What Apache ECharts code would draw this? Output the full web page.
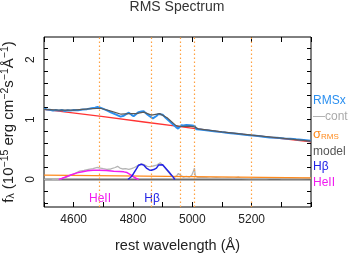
<!DOCTYPE html>
<html><head><meta charset="utf-8">
<script src="https://cdn.jsdelivr.net/npm/echarts@6/dist/echarts.min.js"></script>
<style>html,body{margin:0;padding:0;background:#fff}#c{width:354px;height:255px}</style>
</head><body><div id="c"></div>
<script>
// ---- data ----
var rmsxWave = [4500,4510,4520,4530,4540,4550,4560,4570,4580,4590,4600,4615,4630,4645,4660,4672,4680,4690,4700,4712,4725,4735,4747,4758,4769,4778,4786,4795,4802,4810,4819,4828,4836,4845,4855,4867,4873,4879,4886,4892,4900,4907,4913,4924,4935,4945,4952,4958,4963,4970,4980,4991,5000,5008,5014,5025,5040,5060,5080,5092,5110,5130,5150,5170,5193,5215,5240,5261,5285,5310,5330,5350,5375,5400];
var rmsxFlux = [1.18,1.17,1.165,1.15,1.16,1.15,1.16,1.145,1.155,1.15,1.16,1.155,1.17,1.175,1.19,1.2,1.21,1.2,1.18,1.155,1.12,1.10,1.075,1.05,1.065,1.095,1.115,1.08,1.055,1.09,1.125,1.135,1.14,1.10,1.06,1.02,1.035,1.06,1.095,1.12,1.08,1.045,1.015,0.97,0.92,0.875,0.85,0.88,0.905,0.9,0.91,0.905,0.9,0.895,0.84,0.835,0.825,0.815,0.80,0.795,0.785,0.77,0.765,0.75,0.74,0.73,0.715,0.70,0.695,0.685,0.68,0.67,0.66,0.645];
var modelWave = [4500,4550,4600,4650,4690,4720,4760,4790,4810,4836,4862,4890,4915,4945,4960,4990,5007,5020,5100,5200,5300,5400];
var modelFlux = [1.17,1.16,1.16,1.18,1.19,1.15,1.09,1.10,1.10,1.125,1.075,1.10,1.03,0.90,0.885,0.89,0.88,0.845,0.795,0.74,0.69,0.64];
var contWave = [4500,4700,4837,4946,5100,5250,5400];
var contFlux = [1.17,1.05,0.96,0.89,0.79,0.71,0.63];
var residWave = [4500,4520,4540,4555,4570,4585,4600,4609,4620,4635,4650,4665,4680,4690,4700,4712,4725,4740,4748,4756,4765,4775,4786,4795,4805,4815,4824,4832,4840,4848,4858,4868,4880,4892,4900,4910,4920,4930,4940,4947,4953,4959,4963,4970,4980,4990,4998,5004,5007,5010,5020,5040,5060,5080,5100,5120,5140,5155,5160,5165,5190,5220,5250,5280,5300,5330,5360,5400];
var residFlux = [0.0,0.01,-0.005,0.01,0.03,0.06,0.09,0.11,0.14,0.15,0.17,0.18,0.2,0.19,0.18,0.17,0.175,0.2,0.22,0.19,0.175,0.18,0.17,0.18,0.2,0.23,0.25,0.255,0.24,0.22,0.215,0.225,0.24,0.28,0.24,0.18,0.12,0.06,0.04,0.06,0.1,0.13,0.06,0.04,0.05,0.04,0.07,0.14,0.19,0.06,0.03,0.035,0.02,0.03,0.02,0.025,0.02,0.04,0.05,0.02,0.015,0.02,0.015,0.025,0.015,0.02,0.015,0.02];
var heiiWave = [4550,4560,4575,4590,4611,4630,4647,4665,4684,4710,4735,4755,4769,4780,4786,4795,4802,4810,4819];
var heiiFlux = [0,0.015,0.045,0.075,0.11,0.13,0.145,0.152,0.155,0.148,0.138,0.132,0.127,0.115,0.10,0.07,0.043,0.02,0];
var hbWave = [4783,4795,4802,4812,4819,4828,4836,4845,4855,4862,4870,4879,4886,4892,4900,4913,4922,4930,4936,4941];
var hbFlux = [0,0.05,0.1,0.18,0.238,0.255,0.24,0.19,0.16,0.155,0.165,0.19,0.24,0.265,0.245,0.172,0.12,0.072,0.035,0];
var sigmaWave = [4500,4836,5400];
var sigmaFlux = [0.072,0.055,0.027];
var zeroWave = [4500,5400];
var zeroFlux = [0,0];
var lineMarks = [4686,4861,4959,5007,5200];
var xTickLabels = [4600,4800,5000,5200];
var yTickLabels = [0,1,2];

function pairs(w,f){return w.map(function(v,i){return [v,f[i]];});}
var FF = 'Liberation Sans';
var W = 354, H = 255;
var G = {left:44, right:43, top:37, bottom:48};
var PW = W - G.left - G.right, PH = H - G.top - G.bottom;
var yMin = -0.46, yMax = 2.38;       // data range of the plot box
var tMin = -0.4, tMax = 2.2;          // tick axis range (multiples of 0.2)
var ppu = PH / (yMax - yMin);
var g2top = G.top + (yMax - tMax) * ppu;
var g2bottom = G.bottom + (tMin - yMin) * ppu;
var YT = 4, XT = 5;                   // tick lengths

var chart = echarts.init(document.getElementById('c'), null, {renderer:'canvas'});
var noLine = {show:false};
var tickSplit = {show:true,lineStyle:{color:'#000',width:1,type:'solid'}};
function lineS(data,color,width,z){return {type:'line',xAxisIndex:0,yAxisIndex:0,data:data,showSymbol:false,symbol:'none',lineStyle:{color:color,width:width},z:z,animation:false,silent:true};}
function hiddenX(gi){return {gridIndex:gi,type:'value',min:4500,max:5400,show:false};}
function hiddenY(gi){return {gridIndex:gi,type:'value',min:yMin,max:yMax,show:false};}
function tickX(gi){return {gridIndex:gi,type:'value',min:4500,max:5400,interval:100,axisLine:noLine,axisTick:{show:false},axisLabel:{show:false},splitLine:tickSplit};}
function tickY(gi){return {gridIndex:gi,type:'value',min:tMin,max:tMax,interval:0.2,axisLine:noLine,axisTick:{show:false},axisLabel:{show:false},splitLine:tickSplit};}
function emptyS(i){return {type:'line',xAxisIndex:i,yAxisIndex:i,data:[],silent:true};}
function gridBox(o){return Object.assign({outerBoundsMode:'none',containLabel:false},o);}
var option = {
  animation:false,
  title:{text:'RMS Spectrum',left:'center',top:0,padding:0,textStyle:{fontFamily:FF,fontSize:14,fontWeight:'normal',color:'#333'}},
  grid:[
    gridBox({left:G.left,right:G.right,top:G.top,bottom:G.bottom,show:true,borderColor:'#000',borderWidth:1,backgroundColor:'transparent'}),
    gridBox({left:G.left,right:G.right,top:g2top,bottom:g2bottom}),
    gridBox({left:G.left,width:YT,top:g2top,bottom:g2bottom}),
    gridBox({left:W-G.right-YT,width:YT,top:g2top,bottom:g2bottom}),
    gridBox({left:G.left,right:G.right,top:G.top,height:XT}),
    gridBox({left:G.left,right:G.right,top:H-G.bottom-XT,height:XT})
  ],
  xAxis:[
    {gridIndex:0,type:'value',min:4500,max:5400,interval:100,position:'bottom',axisLine:noLine,axisTick:{show:false},splitLine:{show:false},
      name:'rest wavelength (Å)',nameLocation:'middle',nameGap:31,
      nameTextStyle:{fontFamily:FF,fontSize:14.5,color:'#222'},
      axisLabel:{fontFamily:FF,fontSize:12,color:'#222',margin:7,
        formatter:function(v){return xTickLabels.indexOf(v)>=0?String(v):'';}}},
    hiddenX(1), hiddenX(2), hiddenX(3), tickX(4), tickX(5)
  ],
  yAxis:[
    {gridIndex:0,type:'value',min:yMin,max:yMax,position:'left',axisLine:noLine,axisTick:{show:false},axisLabel:{show:false},splitLine:{show:false},
      name:'{n|f}{sb|λ}{n| (10}{sp|−15}{n| erg cm}{sp|−2}{n|s}{sp|−1}{n|Å}{sp|−1}{n|)}',
      nameLocation:'middle',nameGap:26,nameRotate:90,
      nameTextStyle:{fontFamily:FF,fontSize:15,color:'#222',rich:{
        n:{fontFamily:FF,fontSize:15,color:'#222'},
        sp:{fontFamily:FF,fontSize:10.5,color:'#222',padding:[0,0,7,0]},
        sb:{fontFamily:FF,fontSize:10.5,color:'#222',padding:[5,0,0,0]}}}},
    {gridIndex:1,type:'value',min:tMin,max:tMax,interval:0.2,position:'left',axisLine:noLine,axisTick:{show:false},splitLine:{show:false},
      axisLabel:{fontFamily:FF,fontSize:12,color:'#222',rotate:90,margin:7,
        formatter:function(v){var r=Math.round(v*100)/100;return yTickLabels.indexOf(r)>=0?String(r):'';}}},
    tickY(2), tickY(3), hiddenY(4), hiddenY(5)
  ],
  series:[
    lineS(pairs(zeroWave,zeroFlux),'#6e6e6e',2,2),
    lineS(pairs(residWave,residFlux),'#b4b4b4',1.3,3),
    lineS(pairs(sigmaWave,sigmaFlux),'#ff8a1c',1.3,4),
    lineS(pairs(heiiWave,heiiFlux),'#f01cf0',1.5,5),
    lineS(pairs(hbWave,hbFlux),'#2222e6',1.5,5),
    lineS(pairs(contWave,contFlux),'#ff3333',1.3,3),
    lineS(pairs(rmsxWave,rmsxFlux),'#2a8ff0',2,4),
    Object.assign(lineS(pairs(modelWave,modelFlux),'#5a5a5a',1.2,6),{
      markLine:{silent:true,symbol:'none',label:{show:false},animation:false,
        lineStyle:{color:'#ffa040',type:[1.5,2.5],width:1.2},
        data:lineMarks.map(function(v){return {xAxis:v};})}}),
    emptyS(1), emptyS(2), emptyS(3), emptyS(4), emptyS(5)
  ],
  graphic:[
    {type:'text',left:313,top:95,style:{text:'RMSx',fill:'#2a8ff0',font:'12px "Liberation Sans"'}},
    {type:'text',left:313,top:111,style:{text:'—cont',fill:'#aaaaaa',font:'12px "Liberation Sans"'}},
    {type:'text',left:313,top:128,style:{text:'{a|σ}{b|RMS}',fill:'#ff8a1c',font:'12px "Liberation Sans"',rich:{a:{fontSize:13,fill:'#ff8a1c',fontFamily:FF},b:{fontSize:8,fill:'#ff8a1c',fontFamily:FF,padding:[5,0,0,0]}}}},
    {type:'text',left:313,top:146,style:{text:'model',fill:'#555555',font:'12px "Liberation Sans"'}},
    {type:'text',left:313,top:161,style:{text:'Hβ',fill:'#2222e6',font:'12px "Liberation Sans"'}},
    {type:'text',left:313,top:177,style:{text:'HeII',fill:'#f01cf0',font:'12px "Liberation Sans"'}},
    {type:'text',x:100,y:199,style:{text:'HeII',fill:'#f01cf0',font:'12px "Liberation Sans"',align:'center',verticalAlign:'middle'}},
    {type:'text',x:152,y:199,style:{text:'Hβ',fill:'#2222e6',font:'12px "Liberation Sans"',align:'center',verticalAlign:'middle'}}
  ]
};
chart.setOption(option);
</script></body></html>
